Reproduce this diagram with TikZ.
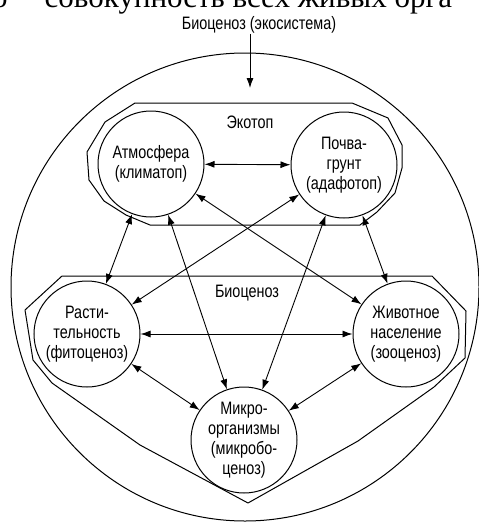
\documentclass[tikz,border=0pt]{standalone}
\usepackage{fontspec}
\setmainfont{Liberation Sans}[FakeStretch=0.8]
\newfontfamily\pageserif{Liberation Serif}
\usetikzlibrary{arrows.meta}
\begin{document}
\begin{tikzpicture}[x=1pt,y=-1pt,
  unit/.style={circle,draw,line width=1pt,minimum size=106pt,inner sep=0pt,align=center,
    font=\fontsize{18}{20}\selectfont},
  lbl/.style={font=\fontsize{18}{20}\selectfont,inner sep=0pt},
  link/.style={{Latex[length=10pt,width=7pt]}-{Latex[length=10pt,width=7pt]},line width=0.9pt},
  zone/.style={line width=1pt,line join=round}]
\useasboundingbox (0,0) rectangle (479,522);
\begin{scope}
\clip (0,0) rectangle (479,522);
\node[font=\pageserif\fontsize{31}{32}\selectfont,anchor=base west,inner sep=0pt] (pagetext) at (-8,7) {о\hspace{37pt}совокупность всех живых орга};
\draw[zone] (245,287) circle (234);
\end{scope}
% zones
\draw[zone] (135,103) -- (352,103) -- (388,118) -- (402,145) -- (402,168) -- (395,193) -- (377,212) -- (360,225)
  -- (150,225) -- (126,215) -- (104,201) -- (89,180) -- (87,152) -- (105,122) -- cycle;
\draw[zone] (62,276) -- (432,276) -- (466,311) -- (465,358) -- (434,387) -- (358,441) -- (248,503)
  -- (140,445) -- (52,383) -- (33,360) -- (25,310) -- cycle;
% labels
\node[lbl] (eco) at (259,25) {Биоценоз (экосистема)};
\coordinate (ecotip) at (250,88);
\draw[-{Latex[length=10pt,width=7pt]},line width=0.9pt] (eco.south -| ecotip) -- (ecotip);
\node[lbl] (ekotop) at (250,122) {Экотоп};
\node[lbl] (bio) at (247,293) {Биоценоз};
% units
\node[unit] (atm) at (151,164) {Атмосфера\\(климатоп)};
\node[unit] (soil) at (344,165) {Почва-\\грунт\\(адафотоп)};
\node[unit] (veg) at (87,334) {Расти-\\тельность\\(фитоценоз)};
\node[unit] (zoo) at (406,334) {Животное\\население\\(зооценоз)};
\node[unit] (mic) at (244,440) {Микро-\\организмы\\(микробо-\\ценоз)};
% links
\draw[link] (atm) -- (soil);
\draw[link] (veg) -- (zoo);
\draw[link] (atm) -- (veg);
\draw[link] (soil) -- (zoo);
\draw[link] (atm) -- (mic);
\draw[link] (soil) -- (mic);
\draw[link] (atm) -- (zoo);
\draw[link] (soil) -- (veg);
\draw[link] (veg) -- (mic);
\draw[link] (zoo) -- (mic);
\end{tikzpicture}
\end{document}
